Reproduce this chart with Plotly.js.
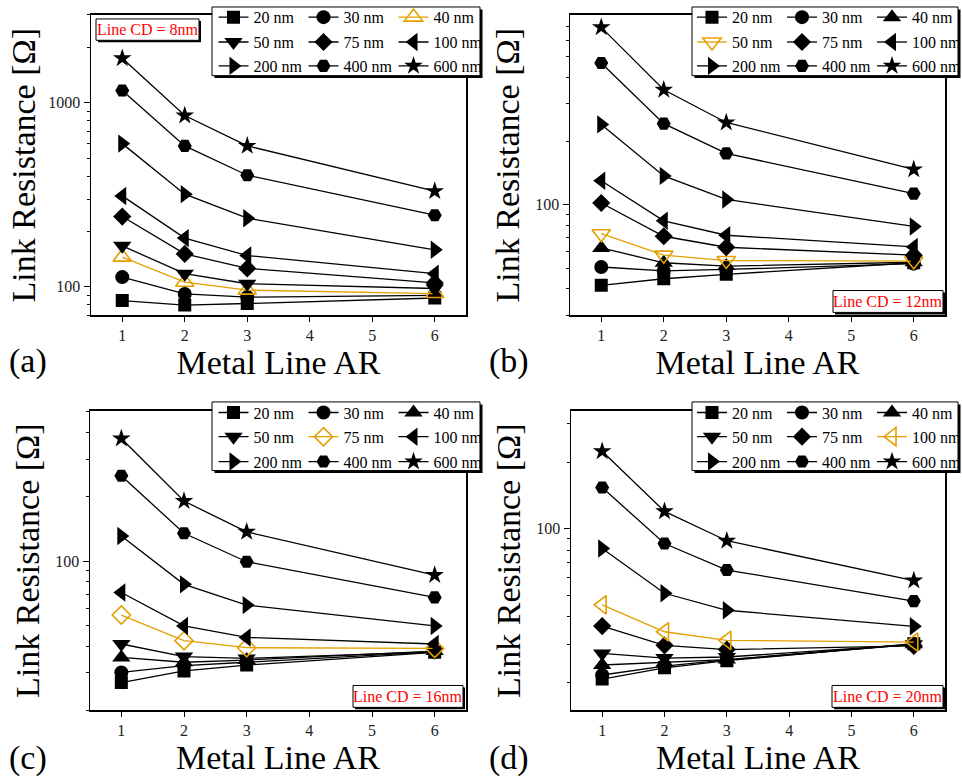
<!DOCTYPE html>
<html><head><meta charset="utf-8">
<script src="https://cdn.plot.ly/plotly-3.0.1.min.js"></script>
<style>html,body{margin:0;padding:0;background:#fff}</style>
</head><body><div id="chart" style="width:962px;height:778px"></div>
<script>
// ---------- data ----------
const metalAR = [1, 2, 3, 6];
const widthLabels = ['20 nm','30 nm','40 nm','50 nm','75 nm','100 nm','200 nm','400 nm','600 nm'];
const symbols = ['square','circle','triangle-up','triangle-down','diamond','triangle-left','triangle-right','hexagon2','star'];

// Link resistance [Ohm] per metal width (rows) vs metal line AR (columns)
const cd8Values = [
  [84.3, 79.6, 81.2, 87],
  [113, 91.6, 88, 90],
  [145, 106, 96, 92],
  [167, 118, 104, 98],
  [241, 151, 126, 105],
  [312, 184, 148, 118],
  [600, 319, 236, 159],
  [1166, 583, 404, 245],
  [1745, 853, 583, 331]
];
const cd12Values = [
  [41.6, 44.7, 46.9, 53.2],
  [50.8, 48.7, 49.5, 52.7],
  [62.5, 53.2, 51.3, 53.5],
  [73, 57.8, 54.5, 54.2],
  [102, 71, 63, 57.8],
  [130, 84, 71.8, 63.2],
  [240, 137, 106, 79],
  [468, 242, 175, 113],
  [690, 350, 245, 147]
];
const cd16Values = [
  [27.0, 30.6, 32.6, 37.4],
  [30.1, 32.4, 33.6, 37.6],
  [35.4, 33.6, 34.4, 37.9],
  [40.9, 35.7, 35.0, 37.6],
  [55.9, 42.4, 39.3, 39.0],
  [71.3, 49.7, 43.9, 40.9],
  [131, 77.8, 62.2, 49.7],
  [251, 135, 99.3, 67.6],
  [375, 191, 137, 86]
];
const cd20Values = [
  [20.8, 23.4, 25.2, 30.1],
  [21.7, 23.8, 25.4, 29.9],
  [24.1, 24.7, 25.5, 29.9],
  [27.2, 25.9, 26.2, 29.9],
  [36.2, 29.6, 28.3, 29.4],
  [45.2, 34.1, 31.2, 30.6],
  [81.5, 51, 42.7, 36.1],
  [154, 85.8, 65, 47],
  [225, 120, 88.3, 58.2]
];
const cdLabels = ['Line CD = 8nm', 'Line CD = 12nm', 'Line CD = 16nm', 'Line CD = 20nm'];
const panelLabels = ['(a)', '(b)', '(c)', '(d)'];
const highlighted = [2, 3, 4, 5];   // index of the orange (open-marker) series in each panel
const yRanges = [[70, 3000], [30, 790], [20, 505], [15, 343]];
const xTickVals = [1, 2, 3, 4, 5, 6];
const yTickVals = [100, 1000];
const yTickText = ['100', '1000'];
const yMinorVals = [20,30,40,50,60,70,80,90,200,300,400,500,600,700,800,900,2000,3000];

// ---------- style / layout ----------
const W = 962, H = 778;
const px = v => v / W, py = v => 1 - v / H;
const FONT = '"Liberation Serif", "Times New Roman", Times, serif';
const ORANGE = '#e3a000';
const markerSizes = [13, 14, 16, 16, 14, 16, 16, 14, 14];

const allValues = [cd8Values, cd12Values, cd16Values, cd20Values];
// plot areas in pixels: [left, right, top, bottom]
const areas = [[91, 466, 11, 313], [570, 945, 11, 313], [90, 466, 409, 710], [571, 945, 409, 710]];
const legendOrigin = [213.5, 692, 213.5, 692];
const legendRows = [[13.3, 38.3, 62.3], [13.3, 38.3, 62.3], [410.7, 435, 460], [410.7, 435, 460]];
const legendBoxes = [[212, 480, 3, 72], [692, 958, 3, 72], [212, 480, 400, 469], [692, 958, 400, 469]];
const cdBoxes = [[96, 199, 15, 36.5], [833, 943, 288, 310], [353, 463, 685, 707], [832, 943, 685, 707]];
const labelPos = [[7, 359], [487, 359], [7, 758], [487, 758]];
const titleStandoff = [2, 5, 5, 5];

const traces = [];
const layout = {
  width: W, height: H,
  margin: {l: 0, r: 0, t: 0, b: 0},
  paper_bgcolor: '#fff', plot_bgcolor: '#fff',
  font: {family: FONT, color: '#000'},
  showlegend: true,
  shapes: [], annotations: []
};

const legName = k => k === 0 ? 'legend' : 'legend' + (k + 1);

allValues.forEach((vals, pi) => {
  const xa = pi === 0 ? 'x' : 'x' + (pi + 1);
  const ya = pi === 0 ? 'y' : 'y' + (pi + 1);
  const [l, r, t, b] = areas[pi];
  vals.forEach((row, si) => {
    const isO = si === highlighted[pi];
    const col = isO ? ORANGE : '#000';
    traces.push({
      type: 'scatter', mode: 'lines+markers',
      x: metalAR, y: row, xaxis: xa, yaxis: ya,
      name: widthLabels[si],
      legend: legName(pi * 3 + Math.floor(si / 3)),
      line: {color: col, width: 1.3},
      marker: {symbol: symbols[si] + (isO ? '-open' : ''), size: markerSizes[si],
               color: col, line: {color: col, width: isO ? 1.6 : 0}},
      hoverinfo: 'x+y'
    });
  });
  const axBase = {
    showline: true, linecolor: '#000', linewidth: 1.5, mirror: true,
    showgrid: false, zeroline: false, ticks: 'outside', tickcolor: '#000',
    tickwidth: 1, tickfont: {family: FONT, size: 16, color: '#222'}
  };
  layout['xaxis' + (pi === 0 ? '' : pi + 1)] = Object.assign({}, axBase, {
    domain: [px(l), px(r)], anchor: ya, range: [0.5, 6.5],
    tickmode: 'array', tickvals: xTickVals, ticklen: 5,
    title: {text: 'Metal Line AR', font: {family: FONT, size: 34, color: '#000'}, standoff: 2}
  });
  layout['yaxis' + (pi === 0 ? '' : pi + 1)] = Object.assign({}, axBase, {
    domain: [py(b), py(t)], anchor: xa, type: 'log',
    range: [Math.log10(yRanges[pi][0]), Math.log10(yRanges[pi][1])],
    tickmode: 'array', tickvals: yTickVals, ticktext: yTickText, ticklen: 6,
    minor: {tickmode: 'array', tickvals: yMinorVals, ticks: 'outside', ticklen: 3, tickcolor: '#000', tickwidth: 1, showgrid: false},
    title: {text: 'Link Resistance [Ω]', font: {family: FONT, size: 34, color: '#000'}, standoff: titleStandoff[pi]}
  });
  // legends (three rows, one legend per row)
  legendRows[pi].forEach((ry, k) => {
    layout[legName(pi * 3 + k)] = {
      orientation: 'h', x: px(legendOrigin[pi]), xanchor: 'left',
      y: py(ry), yanchor: 'middle', bgcolor: 'rgba(0,0,0,0)', borderwidth: 0,
      font: {family: FONT, size: 16, color: '#000'},
      entrywidth: 45, entrywidthmode: 'pixels', tracegroupgap: 0,
      itemclick: false, itemdoubleclick: false
    };
  });
  // legend frame with shadow
  const [lx0, lx1, ly0, ly1] = legendBoxes[pi];
  layout.shapes.push({type: 'rect', xref: 'paper', yref: 'paper', layer: 'above',
    x0: px(lx0 + 2.5), x1: px(lx1 + 2.5), y0: py(ly0 + 2.5), y1: py(ly1 + 2.5),
    fillcolor: '#000', line: {width: 0}});
  layout.shapes.push({type: 'rect', xref: 'paper', yref: 'paper', layer: 'above',
    x0: px(lx0), x1: px(lx1), y0: py(ly0), y1: py(ly1),
    fillcolor: '#fff', line: {color: '#000', width: 1}});
  // Line CD box
  const [cx0, cx1, cy0, cy1] = cdBoxes[pi];
  layout.shapes.push({type: 'rect', xref: 'paper', yref: 'paper', layer: 'above',
    x0: px(cx0 + 2), x1: px(cx1 + 2), y0: py(cy0 + 2), y1: py(cy1 + 2),
    fillcolor: '#000', line: {width: 0}});
  layout.shapes.push({type: 'rect', xref: 'paper', yref: 'paper', layer: 'above',
    x0: px(cx0), x1: px(cx1), y0: py(cy0), y1: py(cy1),
    fillcolor: '#fff', line: {color: '#000', width: 1}});
  layout.annotations.push({xref: 'paper', yref: 'paper', x: px((cx0 + cx1) / 2), y: py((cy0 + cy1) / 2),
    xanchor: 'center', yanchor: 'middle', showarrow: false, text: cdLabels[pi],
    font: {family: FONT, size: 16, color: '#ff0000'}});
  layout.annotations.push({xref: 'paper', yref: 'paper', x: px(labelPos[pi][0]), y: py(labelPos[pi][1]),
    xanchor: 'left', yanchor: 'middle', showarrow: false, text: panelLabels[pi],
    font: {family: FONT, size: 34, color: '#000'}});
});

Plotly.newPlot('chart', traces, layout, {displayModeBar: false, staticPlot: true});
</script></body></html>
